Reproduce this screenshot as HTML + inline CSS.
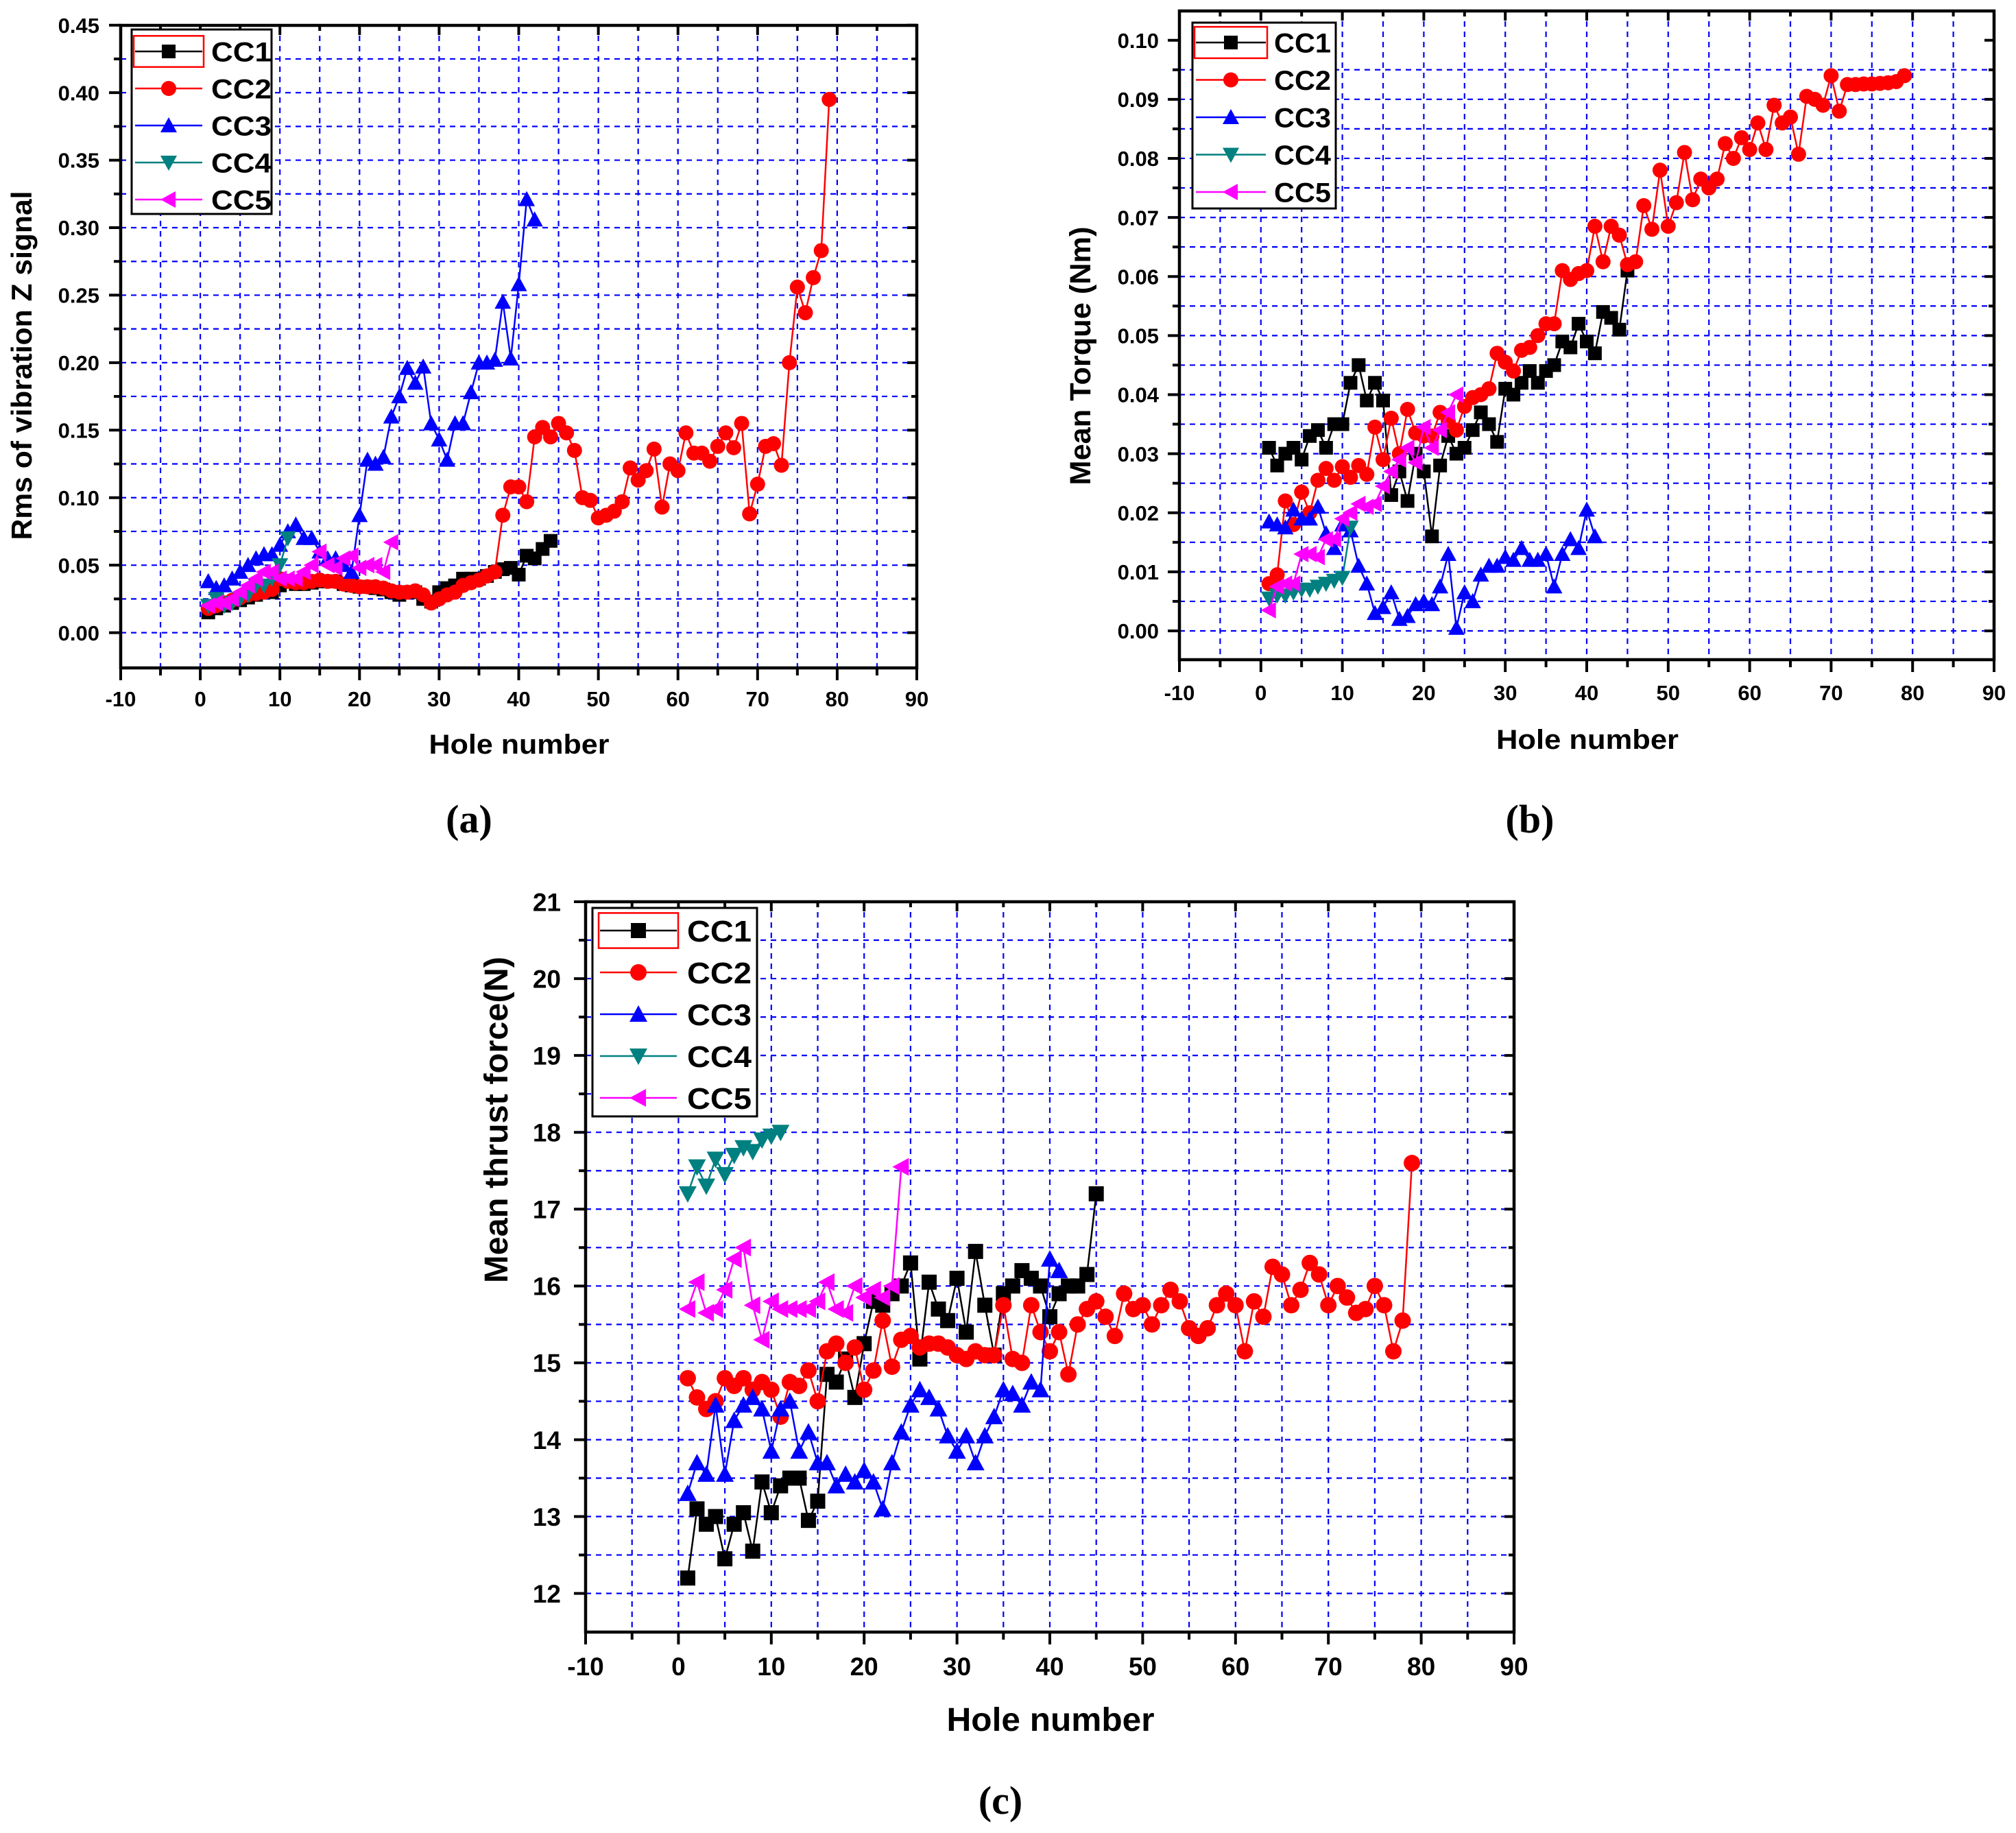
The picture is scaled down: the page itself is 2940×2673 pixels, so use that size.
<!DOCTYPE html>
<html><head><meta charset="utf-8"><style>
html,body{margin:0;padding:0;background:#fff;}
svg{display:block;}
text{font-family:"Liberation Sans",Arial,sans-serif;font-weight:bold;fill:#000;}
.cap{font-family:"Liberation Serif",serif;font-weight:bold;}
</style></head><body>
<svg id="fig" xmlns="http://www.w3.org/2000/svg" width="2940" height="2673" viewBox="0 0 2940 2673">
<rect x="0" y="0" width="2940" height="2673" fill="#fff"/>
<text class="cap" x="684" y="1214" font-size="58" text-anchor="middle">(a)</text>
<text class="cap" x="2231" y="1214" font-size="58" text-anchor="middle">(b)</text>
<text class="cap" x="1459" y="2645" font-size="58" text-anchor="middle">(c)</text>
</svg>
<script>
// ---- chart (a): RMS vibration Z ----
const a_cc1 = [0.015,0.018,0.02,0.022,0.024,0.026,0.028,0.03,0.03,0.035,0.038,0.036,0.036,0.037,0.038,0.038,0.038,0.036,0.035,0.034,0.034,0.033,0.032,0.03,0.028,0.03,0.03,0.025,0.023,0.03,0.033,0.035,0.04,0.04,0.04,0.042,0.045,0.047,0.048,0.043,0.057,0.055,0.062,0.068];
const a_cc2 = [0.018,0.02,0.022,0.024,0.026,0.028,0.029,0.03,0.032,0.04,0.038,0.037,0.037,0.038,0.039,0.038,0.038,0.036,0.035,0.034,0.034,0.034,0.033,0.031,0.03,0.03,0.031,0.028,0.022,0.025,0.028,0.03,0.035,0.037,0.039,0.042,0.045,0.087,0.108,0.108,0.097,0.145,0.152,0.145,0.155,0.148,0.135,0.1,0.098,0.085,0.087,0.09,0.097,0.122,0.113,0.12,0.136,0.093,0.125,0.12,0.148,0.133,0.133,0.127,0.138,0.148,0.137,0.155,0.088,0.11,0.138,0.14,0.124,0.2,0.256,0.237,0.263,0.283,0.395];
const a_cc3 = [0.038,0.033,0.035,0.04,0.045,0.05,0.055,0.058,0.058,0.065,0.075,0.08,0.07,0.07,0.06,0.055,0.055,0.05,0.045,0.087,0.128,0.125,0.13,0.16,0.175,0.196,0.185,0.197,0.155,0.143,0.128,0.155,0.155,0.178,0.2,0.2,0.202,0.245,0.203,0.258,0.321,0.306];
const a_cc4 = [0.02,0.025,0.02,0.022,0.025,0.028,0.035,0.035,0.04,0.05,0.07];
const a_cc5 = [0.02,0.022,0.022,0.025,0.03,0.035,0.04,0.045,0.045,0.04,0.04,0.04,0.045,0.05,0.06,0.05,0.048,0.055,0.057,0.048,0.05,0.05,0.045,0.067];
const a_yticks = ["0.00","0.05","0.10","0.15","0.20","0.25","0.30","0.35","0.40","0.45"];
// ---- chart (b): mean torque ----
const b_cc1 = [0.031,0.028,0.03,0.031,0.029,0.033,0.034,0.031,0.035,0.035,0.042,0.045,0.039,0.042,0.039,0.023,0.027,0.022,0.030,0.027,0.016,0.028,0.033,0.030,0.031,0.034,0.037,0.035,0.032,0.041,0.040,0.042,0.044,0.042,0.044,0.045,0.049,0.048,0.052,0.049,0.047,0.054,0.053,0.051,0.061];
const b_cc2 = [0.008,0.0095,0.022,0.018,0.0235,0.02,0.0255,0.0275,0.0255,0.0278,0.026,0.028,0.0265,0.0345,0.029,0.036,0.03,0.0375,0.0335,0.033,0.033,0.037,0.0355,0.034,0.038,0.0395,0.04,0.041,0.047,0.0455,0.044,0.0475,0.048,0.05,0.052,0.052,0.061,0.0595,0.0605,0.061,0.0685,0.0625,0.0685,0.067,0.062,0.0625,0.072,0.068,0.078,0.0685,0.0725,0.081,0.073,0.0765,0.075,0.0765,0.0825,0.080,0.0835,0.0815,0.086,0.0815,0.089,0.086,0.087,0.0807,0.0905,0.090,0.089,0.094,0.088,0.0925,0.0925,0.0926,0.0926,0.0927,0.0928,0.093,0.094];
const b_cc3 = [0.0185,0.018,0.0175,0.0205,0.019,0.019,0.021,0.0165,0.014,0.018,0.017,0.011,0.008,0.003,0.004,0.0065,0.002,0.0025,0.0045,0.005,0.0045,0.0075,0.013,0.0005,0.0065,0.005,0.0095,0.011,0.011,0.0125,0.012,0.014,0.012,0.012,0.013,0.0075,0.013,0.0155,0.014,0.0205,0.016];
const b_cc4 = [0.0055,0.006,0.006,0.0065,0.007,0.007,0.0075,0.008,0.0085,0.009,0.0175];
const b_cc5 = [0.0035,0.0075,0.008,0.008,0.013,0.013,0.0125,0.0155,0.0155,0.019,0.02,0.0215,0.021,0.0215,0.0245,0.027,0.029,0.031,0.0285,0.0345,0.031,0.034,0.037,0.040];
const b_yticks = ["0.00","0.01","0.02","0.03","0.04","0.05","0.06","0.07","0.08","0.09","0.10"];
// ---- chart (c): mean thrust force ----
const c_cc1 = [12.2,13.1,12.9,13.0,12.45,12.9,13.05,12.55,13.45,13.05,13.4,13.5,13.5,12.95,13.2,14.85,14.75,15.05,14.55,15.25,15.8,15.75,15.9,16.0,16.3,15.05,16.05,15.7,15.55,16.1,15.4,16.45,15.75,15.1,15.9,16.0,16.2,16.1,16.0,15.6,15.9,16.0,16.0,16.15,17.2];
const c_cc2 = [14.8,14.55,14.4,14.5,14.8,14.7,14.8,14.65,14.75,14.65,14.3,14.75,14.7,14.9,14.5,15.15,15.25,15.0,15.2,14.65,14.9,15.55,14.95,15.3,15.35,15.2,15.25,15.25,15.2,15.1,15.05,15.15,15.1,15.1,15.75,15.05,15.0,15.75,15.4,15.15,15.4,14.85,15.5,15.7,15.8,15.6,15.35,15.9,15.7,15.75,15.5,15.75,15.95,15.8,15.45,15.35,15.45,15.75,15.9,15.75,15.15,15.8,15.6,16.25,16.15,15.75,15.95,16.3,16.15,15.75,16.0,15.85,15.65,15.7,16.0,15.75,15.15,15.55,17.6];
const c_cc3 = [13.3,13.7,13.55,14.45,13.55,14.25,14.45,14.55,14.4,13.85,14.4,14.5,13.85,14.1,13.7,13.7,13.4,13.55,13.45,13.6,13.45,13.1,13.7,14.1,14.45,14.65,14.55,14.4,14.05,13.85,14.05,13.7,14.05,14.3,14.65,14.6,14.45,14.75,14.65,16.35,16.2];
const c_cc4 = [17.2,17.55,17.3,17.65,17.45,17.7,17.8,17.75,17.9,17.95,18.0];
const c_cc5 = [15.7,16.05,15.65,15.7,15.95,16.35,16.5,15.75,15.3,15.8,15.7,15.7,15.7,15.7,15.8,16.05,15.7,15.65,16.0,15.85,15.95,15.85,16.0,17.55];
const c_yticks = ["12","13","14","15","16","17","18","19","20","21"];
const xticks = ["-10","0","10","20","30","40","50","60","70","80","90"];
const seriesNames = ["CC1","CC2","CC3","CC4","CC5"];

const NS="http://www.w3.org/2000/svg";
const svg=document.getElementById('fig');
function mk(tag,attrs,parent){const e=document.createElementNS(NS,tag);for(const k in attrs)e.setAttribute(k,attrs[k]);(parent||svg).appendChild(e);return e;}
const colors=["#000000","#ff0000","#0000ff","#008080","#ff00ff"];
const shapes=["square","circle","up","down","left"];
function marker(g,shape,cx,cy,s,col){
  const h=s/2;let e;
  if(shape==="square") e=mk('rect',{x:cx-h,y:cy-h,width:s,height:s,fill:col},g);
  else if(shape==="circle") e=mk('circle',{cx:cx,cy:cy,r:h+1,fill:col},g);
  else{
    let p;
    if(shape==="up") p=[[cx,cy-h-2],[cx+h+2,cy+h],[cx-h-2,cy+h]];
    else if(shape==="down") p=[[cx,cy+h+2],[cx+h+2,cy-h],[cx-h-2,cy-h]];
    else p=[[cx-h-2,cy],[cx+h,cy-h-2],[cx+h,cy+h+2]];
    e=mk('polygon',{points:p.map(q=>q.join(',')).join(' '),fill:col},g);
  }
  return e;
}
function chart(cfg){
  const g=mk('g',{});
  
  
  const X=v=>cfg.x0+(v+10)*(cfg.x1-cfg.x0)/100;
  const Y=v=>cfg.yb+(v-cfg.vmin)*(cfg.yt-cfg.yb)/(cfg.vmax-cfg.vmin);
  const L=cfg.x0,R=cfg.x1,T=cfg.top,B=cfg.bottom;
  const grid=mk('g',{stroke:"#0000ff","stroke-width":2.2,"stroke-dasharray":"8,7",fill:"none"},g);
  
  
  for(let v=-5;v<=85;v+=5) mk('line',{x1:X(v),x2:X(v),y1:T,y2:B},grid);
  const nMinor=Math.round((cfg.vmax-cfg.vmin)/cfg.minor);
  for(let i=0;i<nMinor;i++){const v=cfg.vmin+i*cfg.minor;mk('line',{x1:L,x2:R,y1:Y(v),y2:Y(v)},grid);}
  const data=cfg.data;
  data.forEach((arr,si)=>{
    const sg=mk('g',{},g);
    
    
    const pts=arr.map((v,i)=>X(i+1)+','+Y(v)).join(' ');
    mk('polyline',{points:pts,fill:"none",stroke:colors[si],"stroke-width":2.5},sg);
    arr.forEach((v,i)=>{
      const m=marker(sg,shapes[si],X(i+1),Y(v),cfg.ms,colors[si]);
      
      
    });
  });
  const fr=mk('rect',{x:L,y:T,width:R-L,height:B-T,fill:"none",stroke:"#000","stroke-width":4.5},g);
  
  
  const tk=mk('g',{stroke:"#000","stroke-width":4},g);
  xticks.forEach((t,i)=>{const v=-10+i*10;mk('line',{x1:X(v),x2:X(v),y1:B,y2:B+18},tk);mk('line',{x1:X(v),x2:X(v),y1:T,y2:T+14},tk);});
  for(let v=-5;v<=85;v+=10){mk('line',{x1:X(v),x2:X(v),y1:B,y2:B+11},tk);mk('line',{x1:X(v),x2:X(v),y1:T,y2:T+8},tk);}
  for(let i=0;i<=nMinor;i++){const v=cfg.vmin+i*cfg.minor;const major=(i%2===0);
    mk('line',{x1:L-(major?17:10),x2:L,y1:Y(v),y2:Y(v)},tk);
    mk('line',{x1:R-(major?14:8),x2:R,y1:Y(v),y2:Y(v)},tk);}
  xticks.forEach((t,i)=>{const v=-10+i*10;
    const e=mk('text',{x:X(v),y:cfg.xlabY,"font-size":cfg.tf,"text-anchor":"middle"},g);e.textContent=t;
    
    });
  cfg.yticks.forEach((t,i)=>{const v=cfg.vmin+i*cfg.minor*2;
    const e=mk('text',{x:cfg.ylabR,y:Y(v)+cfg.tf*0.36,"font-size":cfg.tf,"text-anchor":"end"},g);e.textContent=t;
    
    });
  const xt=mk('text',{x:cfg.xtX,y:cfg.xtY,"font-size":cfg.atf,"text-anchor":"middle",textLength:cfg.xtLen,lengthAdjust:"spacingAndGlyphs"},g);
  xt.textContent="Hole number";
  
  
  const yt=mk('text',{x:0,y:0,"font-size":cfg.ytf,"text-anchor":"middle",textLength:cfg.ytLen,lengthAdjust:"spacingAndGlyphs",transform:`translate(${cfg.ytX},${cfg.ytY}) rotate(-90)`},g);
  yt.textContent=cfg.ytitle;
  
  
  const lg=mk('g',{},g);
  
  
  const lgc=cfg.leg;
  mk('rect',{x:lgc.x,y:lgc.y,width:lgc.w,height:lgc.h,fill:"#fff",stroke:"#000","stroke-width":3},lg);
  seriesNames.forEach((n,i)=>{
    const ey=lgc.ey0+i*lgc.dy;
    const eg=mk('g',{},lg);
    
    
    if(i===0) mk('rect',{x:lgc.lx1-2,y:ey-lgc.dy*0.42,width:lgc.lx2-lgc.lx1+4,height:lgc.dy*0.84,fill:"none",stroke:"#ff0000","stroke-width":2.5},eg);
    mk('line',{x1:lgc.lx1,x2:lgc.lx2,y1:ey,y2:ey,stroke:colors[i],"stroke-width":2.5},eg);
    marker(eg,shapes[i],(lgc.lx1+lgc.lx2)/2,ey,cfg.ms,colors[i]);
    const t=mk('text',{x:lgc.tx,y:ey+lgc.fs*0.36,"font-size":lgc.fs,textLength:lgc.tw,lengthAdjust:"spacingAndGlyphs"},eg);
    t.textContent=n;
  });
}
chart({name:"chart-a-vibration",data:[a_cc1,a_cc2,a_cc3,a_cc4,a_cc5],x0:176,x1:1337,top:37,bottom:974,vmin:0,vmax:0.45,yb:922.6,yt:36.7,minor:0.025,
  ms:20,yticks:a_yticks,tf:31,xlabY:1030,ylabR:145,atf:40,xtX:757,xtY:1099,xtLen:263,ytitle:"Rms of vibration Z signal",ytf:42,ytX:46,ytY:533,ytLen:509,
  leg:{x:192,y:43,w:204,h:269,ey0:75,dy:54,lx1:197,lx2:295,tx:308,fs:40,tw:88}});
chart({name:"chart-b-torque",data:[b_cc1,b_cc2,b_cc3,b_cc4,b_cc5],x0:1720,x1:2908,top:16,bottom:962,vmin:0,vmax:0.10,yb:920,yt:58.7,minor:0.005,
  ms:20,yticks:b_yticks,tf:31,xlabY:1021,ylabR:1690,atf:40,xtX:2315,xtY:1092,xtLen:266,ytitle:"Mean Torque (Nm)",ytf:43,ytX:1590,ytY:519,ytLen:377,
  leg:{x:1739,y:33,w:209,h:271,ey0:62,dy:54.5,lx1:1744,lx2:1846,tx:1858,fs:40,tw:83}});
chart({name:"chart-c-thrust",data:[c_cc1,c_cc2,c_cc3,c_cc4,c_cc5],x0:854,x1:2208,top:1315,bottom:2380,vmin:12,vmax:21,yb:2323.6,yt:1315,minor:0.5,
  ms:22,yticks:c_yticks,tf:37,xlabY:2443,ylabR:818,atf:48,xtX:1532,xtY:2524,xtLen:303,ytitle:"Mean thrust force(N)",ytf:48,ytX:740,ytY:1633,ytLen:476,
  leg:{x:864,y:1324,w:240,h:304,ey0:1357,dy:61,lx1:875,lx2:987,tx:1002,fs:44,tw:94}});
</script>
</body></html>
